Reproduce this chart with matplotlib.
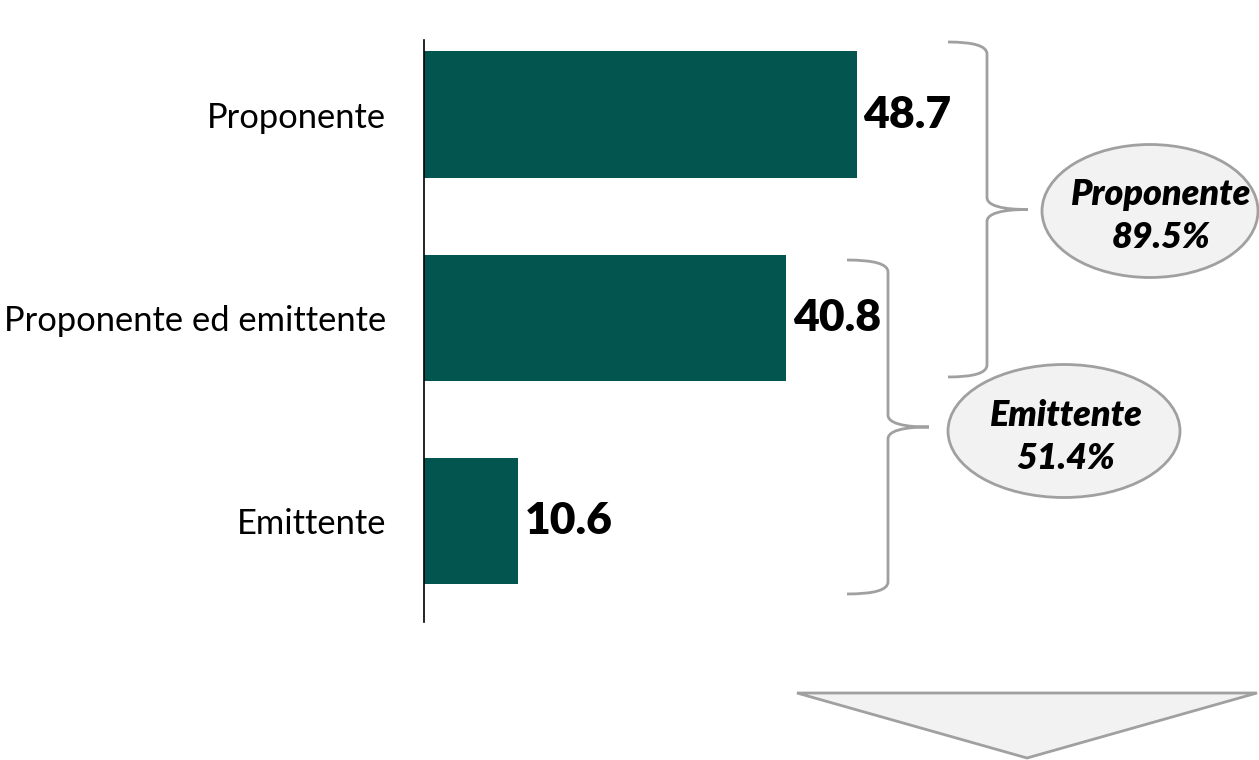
import matplotlib
matplotlib.use("Agg")
import matplotlib.pyplot as plt
import matplotlib.transforms as mtransforms
from matplotlib.path import Path
from matplotlib.patches import PathPatch, Ellipse, Polygon

plt.rcParams['font.family'] = ['Lato', 'DejaVu Sans']

categories = ["Proponente", "Proponente ed emittente", "Emittente"]
values = [48.7, 40.8, 10.6]
group_labels = ["Proponente\n89.5%", "Emittente\n51.4%"]

BAR_COLOR = "#03554F"
GREY_EDGE = "#A0A0A0"
GREY_FILL = "#F2F2F2"

W, H = 1259, 760
fig = plt.figure(figsize=(W / 100, H / 100), dpi=100)
ax = fig.add_axes([424 / W, (H - 622) / H, 533 / W, 582 / H])

ypos = range(len(categories))
bars = ax.barh(ypos, values, height=0.625, color=BAR_COLOR)
ax.set_xlim(0, 60)
ax.set_ylim(2.4975, -0.369)
ax.set_yticks(list(ypos))
ax.set_yticklabels(categories, fontsize=24.8)
ax.tick_params(axis='y', length=0, pad=27)
ax.set_xticks([])
for side in ("top", "right", "bottom"):
    ax.spines[side].set_visible(False)
ax.spines["left"].set_linewidth(1.2)
ax.patch.set_visible(False)

for b, v in zip(bars, values):
    ax.annotate(f"{v:.1f}", (b.get_width(), b.get_y() + b.get_height() / 2),
                xytext=(5, 0), textcoords="offset points",
                ha="left", va="center", fontsize=32, fontweight="heavy")

# pixel coordinates, origin at top-left
px = mtransforms.Affine2D().scale(1 / W, -1 / H).translate(0, 1) + fig.transFigure


def brace(x0, xv, xtip, ytop, ybot, r=12):
    ymid = (ytop + ybot) / 2
    verts = [
        (x0, ytop), (xv, ytop), (xv, ytop + r),
        (xv, ymid - r),
        (xv, ymid), (xtip - (xtip - xv) * 0.2, ymid), (xtip, ymid),
        (xtip, ymid), (xtip - (xtip - xv) * 0.2, ymid), (xv, ymid), (xv, ymid + r),
        (xv, ybot - r),
        (xv, ybot), (x0, ybot),
    ]
    codes = [Path.MOVETO, Path.CURVE3, Path.CURVE3,
             Path.LINETO,
             Path.CURVE4, Path.CURVE4, Path.CURVE4,
             Path.MOVETO, Path.CURVE4, Path.CURVE4, Path.CURVE4,
             Path.LINETO,
             Path.CURVE3, Path.CURVE3]
    return PathPatch(Path(verts, codes), transform=px, fill=False,
                     edgecolor=GREY_EDGE, lw=2, clip_on=False)


fig.patches.append(brace(948, 987, 1028, 42, 377))
fig.patches.append(brace(847, 888, 929, 260, 594))

ellipses = [(1150, 211, 216, 133), (1064, 431, 232, 133)]
text_pos = [(1161, 216), (1066, 437)]
for (cx, cy, w, h), (tx, ty), lab in zip(ellipses, text_pos, group_labels):
    fig.patches.append(Ellipse((cx, cy), w, h, transform=px, facecolor=GREY_FILL,
                               edgecolor=GREY_EDGE, lw=2))
    fig.text(tx / W, 1 - ty / H, lab, ha="center", va="center", fontsize=25.8,
             fontweight="heavy", fontstyle="italic", linespacing=1.35)

fig.patches.append(Polygon([(797, 693), (1257, 693), (1027, 758)], closed=True,
                           transform=px, facecolor=GREY_FILL, edgecolor=GREY_EDGE, lw=2))

fig.savefig("out.png", dpi=100)
